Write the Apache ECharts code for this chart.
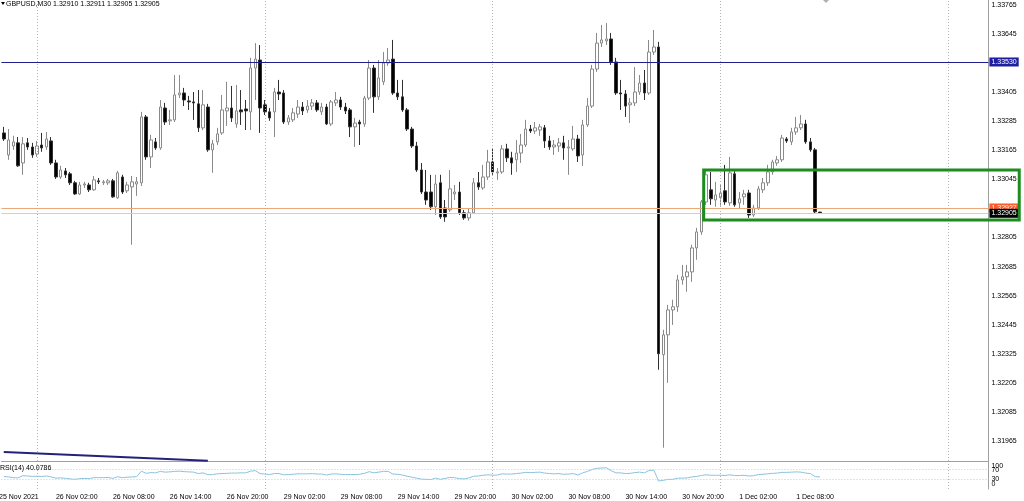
<!DOCTYPE html>
<html><head><meta charset="utf-8">
<script src="https://cdn.jsdelivr.net/npm/echarts@6/dist/echarts.min.js"></script>
<style>html,body{margin:0;padding:0;background:#fff}#c{width:1024px;height:501px}</style>
</head><body><div id="c"></div>
<script>
// ---- data ----
const symbolName = 'GBPUSD,M30';
// trading sessions: [day, first half-hour slot, last half-hour slot]
const sessions = [['25 Nov', 41, 47], ['26 Nov', 0, 47], ['29 Nov', 0, 47], ['30 Nov', 0, 47], ['1 Dec', 0, 47], ['2 Dec', 0, 8]];
const firstTickLabel = '25 Nov 2021';
const xTickLabels = ['26 Nov 02:00','26 Nov 08:00','26 Nov 14:00','26 Nov 20:00','29 Nov 02:00','29 Nov 08:00','29 Nov 14:00','29 Nov 20:00','30 Nov 02:00','30 Nov 08:00','30 Nov 14:00','30 Nov 20:00','1 Dec 02:00','1 Dec 08:00'];
const priceTicks = [1.33765,1.33645,1.33405,1.33285,1.33165,1.33045,1.32805,1.32685,1.32565,1.32445,1.32325,1.32205,1.32085,1.31965];
const rsiInnerTicks = [30, 70];
const rsiEdgeTicks = [0, 100];
const rsiLevels = [30, 70];
// [open, high, low, close]
const ohlc = [
[1.33237,1.33262,1.33204,1.33212],[1.33146,1.33253,1.33126,1.33208],[1.33183,1.33225,1.33167,1.33200],[1.33196,1.33220,1.33097,1.33101],[1.33113,1.33220,1.33064,1.33192],
[1.33196,1.33216,1.33167,1.33179],[1.33179,1.33196,1.33134,1.33146],[1.33150,1.33204,1.33138,1.33183],[1.33187,1.33237,1.33159,1.33175],[1.33179,1.33241,1.33167,1.33212],
[1.33204,1.33220,1.33105,1.33113],[1.33113,1.33126,1.33047,1.33055],[1.33055,1.33101,1.33047,1.33084],[1.33080,1.33092,1.33051,1.33064],[1.33068,1.33076,1.33022,1.33031],
[1.33031,1.33039,1.32981,1.32985],[1.32985,1.33035,1.32981,1.33022],[1.33022,1.33035,1.33010,1.33026],[1.33022,1.33031,1.32993,1.33002],[1.33002,1.33059,1.32998,1.33043],
[1.33039,1.33051,1.33026,1.33035],[1.33031,1.33043,1.33022,1.33035],[1.33031,1.33047,1.33022,1.33039],[1.33039,1.33047,1.32969,1.32973],[1.32969,1.33080,1.32965,1.33072],
[1.33055,1.33064,1.32985,1.32993],[1.32998,1.33035,1.32989,1.33022],[1.33014,1.33059,1.32775,1.33035],[1.33026,1.33055,1.32977,1.33035],[1.33031,1.33324,1.33018,1.33303],
[1.33303,1.33311,1.33126,1.33138],[1.33138,1.33229,1.33092,1.33208],[1.33200,1.33216,1.33167,1.33175],[1.33175,1.33373,1.33167,1.33344],[1.33340,1.33361,1.33270,1.33282],
[1.33287,1.33332,1.33270,1.33291],[1.33291,1.33476,1.33282,1.33394],[1.33394,1.33476,1.33381,1.33402],[1.33402,1.33423,1.33348,1.33373],[1.33369,1.33390,1.33332,1.33365],
[1.33365,1.33406,1.33291,1.33361],[1.33357,1.33414,1.33241,1.33258],[1.33258,1.33414,1.33249,1.33353],[1.33344,1.33357,1.33159,1.33167],[1.33167,1.33208,1.33072,1.33192],
[1.33200,1.33258,1.33187,1.33233],[1.33237,1.33394,1.33229,1.33332],[1.33328,1.33448,1.33266,1.33340],[1.33340,1.33431,1.33282,1.33299],[1.33274,1.33435,1.33258,1.33328],
[1.33332,1.33414,1.33270,1.33324],[1.33336,1.33373,1.33249,1.33328],[1.33324,1.33547,1.33249,1.33505],[1.33505,1.33608,1.33373,1.33542],[1.33538,1.33600,1.33237,1.33340],
[1.33353,1.33373,1.33311,1.33324],[1.33324,1.33340,1.33287,1.33299],[1.33324,1.33423,1.33220,1.33406],[1.33406,1.33456,1.33373,1.33398],[1.33402,1.33414,1.33274,1.33282],
[1.33282,1.33311,1.33270,1.33299],[1.33291,1.33340,1.33282,1.33320],[1.33315,1.33373,1.33299,1.33344],[1.33344,1.33365,1.33311,1.33328],[1.33332,1.33373,1.33320,1.33348],
[1.33348,1.33377,1.33332,1.33361],[1.33361,1.33373,1.33324,1.33332],[1.33324,1.33361,1.33311,1.33344],[1.33344,1.33357,1.33270,1.33274],[1.33274,1.33373,1.33266,1.33365],
[1.33361,1.33406,1.33348,1.33373],[1.33373,1.33386,1.33332,1.33344],[1.33344,1.33361,1.33315,1.33328],[1.33332,1.33340,1.33220,1.33262],[1.33262,1.33299,1.33179,1.33278],
[1.33282,1.33291,1.33187,1.33274],[1.33274,1.33390,1.33262,1.33381],[1.33381,1.33538,1.33373,1.33505],[1.33505,1.33518,1.33320,1.33386],[1.33386,1.33538,1.33373,1.33464],
[1.33448,1.33571,1.33435,1.33526],[1.33526,1.33588,1.33514,1.33538],[1.33542,1.33621,1.33394,1.33402],[1.33402,1.33456,1.33373,1.33386],[1.33386,1.33456,1.33324,1.33332],
[1.33332,1.33340,1.33245,1.33253],[1.33253,1.33262,1.33175,1.33183],[1.33183,1.33200,1.33076,1.33084],[1.33084,1.33113,1.32985,1.32993],[1.32993,1.33084,1.32940,1.32960],
[1.32993,1.33064,1.32919,1.32932],[1.32932,1.33064,1.32898,1.33026],[1.33031,1.33064,1.32882,1.32890],[1.32927,1.32960,1.32870,1.32890],[1.32919,1.33084,1.32911,1.33006],
[1.32985,1.33022,1.32960,1.32993],[1.32993,1.33035,1.32898,1.32907],[1.32907,1.32919,1.32878,1.32886],[1.32886,1.32923,1.32874,1.32907],[1.32907,1.33051,1.32903,1.33031],
[1.33031,1.33076,1.33002,1.33014],[1.33010,1.33105,1.33002,1.33055],[1.33055,1.33167,1.33043,1.33117],[1.33117,1.33175,1.33064,1.33076],[1.33072,1.33092,1.33043,1.33076],
[1.33076,1.33187,1.33068,1.33171],[1.33171,1.33192,1.33117,1.33134],[1.33134,1.33159,1.33064,1.33113],[1.33126,1.33208,1.33076,1.33154],[1.33154,1.33233,1.33113,1.33187],
[1.33187,1.33291,1.33179,1.33253],[1.33253,1.33270,1.33237,1.33245],[1.33245,1.33282,1.33233,1.33258],[1.33249,1.33274,1.33225,1.33262],[1.33258,1.33270,1.33175,1.33204],
[1.33204,1.33225,1.33167,1.33179],[1.33179,1.33208,1.33146,1.33187],[1.33183,1.33216,1.33159,1.33196],[1.33196,1.33225,1.33126,1.33175],[1.33175,1.33208,1.33064,1.33179],
[1.33171,1.33266,1.33163,1.33212],[1.33212,1.33229,1.33117,1.33142],[1.33146,1.33291,1.33101,1.33270],[1.33270,1.33381,1.33262,1.33348],[1.33348,1.33518,1.33340,1.33501],
[1.33501,1.33650,1.33489,1.33608],[1.33608,1.33683,1.33592,1.33621],[1.33617,1.33691,1.33600,1.33625],[1.33625,1.33650,1.33518,1.33530],[1.33530,1.33547,1.33394,1.33402],
[1.33402,1.33456,1.33332,1.33398],[1.33398,1.33414,1.33303,1.33348],[1.33353,1.33381,1.33278,1.33361],[1.33361,1.33509,1.33348,1.33406],[1.33406,1.33476,1.33394,1.33443],
[1.33443,1.33497,1.33373,1.33402],[1.33402,1.33621,1.33394,1.33571],[1.33571,1.33662,1.33559,1.33592],[1.33592,1.33613,1.32259,1.32325],[1.32321,1.32424,1.31937,1.32403],
[1.32403,1.32527,1.32205,1.32506],[1.32506,1.32548,1.32444,1.32519],[1.32519,1.32651,1.32498,1.32630],[1.32630,1.32692,1.32610,1.32643],[1.32643,1.32692,1.32581,1.32663],
[1.32663,1.32775,1.32622,1.32762],[1.32762,1.32845,1.32713,1.32828],[1.32828,1.32960,1.32816,1.32952],[1.32952,1.33084,1.32940,1.33064],[1.33002,1.33076,1.32940,1.32965],
[1.32960,1.33035,1.32932,1.32981],[1.32969,1.33022,1.32932,1.32989],[1.32998,1.33105,1.32940,1.32952],[1.32948,1.33138,1.32936,1.33072],[1.33068,1.33084,1.32932,1.32940],
[1.32948,1.32993,1.32927,1.32965],[1.32973,1.33002,1.32940,1.32985],[1.32989,1.33002,1.32886,1.32898],[1.32898,1.32940,1.32890,1.32927],[1.32927,1.33018,1.32919,1.33006],
[1.33002,1.33051,1.32989,1.33031],[1.33031,1.33105,1.33018,1.33076],[1.33076,1.33126,1.33064,1.33117],[1.33113,1.33142,1.33101,1.33126],[1.33126,1.33229,1.33117,1.33216],
[1.33212,1.33220,1.33196,1.33204],[1.33200,1.33258,1.33187,1.33241],[1.33241,1.33303,1.33229,1.33258],[1.33258,1.33311,1.33249,1.33274],[1.33274,1.33291,1.33192,1.33200],
[1.33200,1.33216,1.33159,1.33167],[1.33167,1.33175,1.32903,1.32911],[1.32910,1.32911,1.32905,1.32905]
];
const rsi = [
42,40,37,36,45,44,42,43,42,44,
40,35,36,34,32,30,33,34,33,37,
37,37,38,34,41,37,39,40,41,64,
55,58,57,63,60,61,63,64,62,61,
60,54,57,49,50,53,54,55,56,56,
57,57,64,66,54,52,50,54,54,49,
50,51,53,53,53,54,52,52,48,52,
53,51,50,50,50,51,55,62,57,60,
63,63,52,51,48,43,39,35,31,30,
29,35,30,34,38,37,33,32,36,43,
44,47,49,47,48,53,52,52,54,56,
59,58,59,60,56,54,53,54,51,52,
54,48,57,63,71,76,77,78,66,57,
57,54,55,58,60,57,67,68,23,26,
30,30,35,35,36,40,42,46,49,47,
47,47,46,49,46,46,47,44,45,50,
51,53,55,56,59,59,60,61,60,56,
54,41,40.0786
];
const dayLines = ['26 Nov 00:00','29 Nov 00:00','30 Nov 00:00','1 Dec 00:00','2 Dec 00:00'];
const resistance = 1.33530;
const askPrice = 1.32927;
const bidPrice = 1.32905;
const trendLine = [['25 Nov 20:30', 1.31919], ['26 Nov 18:00', 1.31883]];
const zoneTop = 1.33084, zoneBottom = 1.32877, zoneStartBar = '30 Nov 22:00', zoneBars = 67;

// ---- categories ----
const categories = [];
sessions.forEach(([d, a, b]) => {
  for (let h = a; h <= b; h++) {
    categories.push(d + ' ' + String(Math.floor(h / 2)).padStart(2, '0') + ':' + (h % 2 ? '30' : '00'));
  }
});

const FONT = 'Liberation Sans';
const last = ohlc[ohlc.length - 1];
const txt = {fontSize: 7, color: '#000', fontFamily: FONT, fontWeight: 'normal'};
const chart = echarts.init(document.getElementById('c'), null, {renderer: 'canvas'});
const tagLabel = (val, bg) => ({show: true, position: 'end', distance: 1, formatter: val.toFixed(5),
  backgroundColor: bg, color: '#fff', fontSize: 7, fontFamily: FONT, padding: [1, 2, 1, 2]});
const vline = d => ({xAxis: d, lineStyle: {color: '#b4b4b4', width: 1, type: [1, 2]}, label: {show: false}});
const RSI_MIN = -10, RSI_MAX = 102;

chart.setOption({
  animation: false,
  backgroundColor: '#fff',
  textStyle: {fontFamily: FONT},
  title: [
    {text: symbolName + ' ' + [last[0], last[1], last[2], last[3]].map(v => v.toFixed(5)).join(' '),
     left: 6, top: 0, padding: 0, textStyle: Object.assign({lineHeight: 9}, txt)},
    {text: 'RSI(14) ' + rsi[rsi.length - 1].toFixed(4), left: 0, top: 464, padding: 0, textStyle: Object.assign({lineHeight: 9}, txt)}
  ],
  grid: [
    {left: 1.41, right: 35.6, top: 0, height: 461},
    {left: 1.41, right: 35.6, top: 462, height: 28}
  ],
  xAxis: [
    {type: 'category', gridIndex: 0, data: categories, axisLine: {show: true, lineStyle: {color: '#a0a0a0'}},
     axisTick: {show: false}, axisLabel: {show: false}, splitLine: {show: false}},
    {type: 'category', gridIndex: 1, data: categories, axisLine: {show: false}, axisTick: {show: false},
     axisLabel: Object.assign({interval: i => (i + 1) % 12 === 0, align: 'left', margin: 5, hideOverlap: false,
       formatter: (v, i) => xTickLabels[(i + 1) / 12 - 1] || ''}, txt),
     splitLine: {show: false}}
  ],
  yAxis: [
    {type: 'value', gridIndex: 0, position: 'right', min: 1.31882, max: 1.33786,
     axisLine: {show: true, lineStyle: {color: '#a0a0a0'}}, axisTick: {show: false}, splitLine: {show: false},
     axisLabel: Object.assign({customValues: priceTicks, margin: 3, hideOverlap: false, formatter: v => v.toFixed(5)}, txt)},
    {type: 'value', gridIndex: 1, position: 'right', min: RSI_MIN, max: RSI_MAX,
     axisLine: {show: true, lineStyle: {color: '#a0a0a0'}}, axisTick: {show: false}, splitLine: {show: false},
     axisLabel: Object.assign({customValues: rsiInnerTicks, margin: 3, hideOverlap: false, formatter: v => String(v)}, txt)},
    {type: 'value', gridIndex: 1, position: 'right', offset: 0, min: RSI_MIN, max: RSI_MAX,
     axisLine: {show: false}, axisTick: {show: false}, splitLine: {show: false},
     axisLabel: Object.assign({customValues: rsiEdgeTicks, margin: 3, hideOverlap: false, showMinLabel: true, showMaxLabel: true,
       formatter: v => v === 100 ? '{t|100}' : '{b|0}',
       rich: {t: {fontSize: 7, fontFamily: FONT, color: '#000', padding: [7, 0, 0, 0]}, b: {fontSize: 7, fontFamily: FONT, color: '#000', padding: [0, 0, 5, 0]}}}, txt)}
  ],
  series: [
    {type: 'candlestick', xAxisIndex: 0, yAxisIndex: 0, barWidth: 3,
     data: ohlc.map(r => [r[0], r[3], r[2], r[1]]),
     itemStyle: {color: '#ffffff', color0: '#000000', borderColor: '#8a8a8a', borderColor0: '#303030', borderWidth: 1},
     markLine: {silent: true, symbol: ['none', 'none'], animation: false, precision: 5,
       data: [
         ...dayLines.map(vline),
         {yAxis: resistance, lineStyle: {color: '#1e1e8c', width: 1, type: 'solid'}, label: tagLabel(resistance, '#1e1ea0')},
         {yAxis: askPrice, lineStyle: {color: '#eaa878', width: 1, type: 'solid'}, label: tagLabel(askPrice, '#ff5a28')},
         {yAxis: bidPrice, lineStyle: {color: '#c4d0e6', width: 1, type: 'solid'}, label: tagLabel(bidPrice, '#000000')}
       ]}},
    {type: 'line', xAxisIndex: 0, yAxisIndex: 0, data: trendLine, symbol: 'none', silent: true, clip: true,
     lineStyle: {color: '#22227a', width: 2}},
    {type: 'line', xAxisIndex: 1, yAxisIndex: 1, data: rsi, symbol: 'none', silent: true,
     lineStyle: {color: '#8cc3de', width: 1},
     markLine: {silent: true, symbol: ['none', 'none'], animation: false,
       data: [
         ...dayLines.map(vline),
         ...rsiLevels.map(v => ({yAxis: v, lineStyle: {color: '#c8c8c8', width: 1, type: [1, 2]}, label: {show: false}}))
       ]}}
  ]
});

// positions derived from the chart's own scales
const xa0 = chart.convertToPixel({xAxisIndex: 1}, 0);
const xa1 = chart.convertToPixel({xAxisIndex: 1}, 1);
const bar = xa1 - xa0;
const si = categories.indexOf(zoneStartBar);
const xs = chart.convertToPixel({xAxisIndex: 0}, si);
const zx0 = xs + bar / 2, zx1 = xs + zoneBars * bar;
const zy0 = chart.convertToPixel({yAxisIndex: 0}, zoneTop);
const zy1 = chart.convertToPixel({yAxisIndex: 0}, zoneBottom);
const rsiBottom = chart.convertToPixel({yAxisIndex: 1}, RSI_MIN);
chart.setOption({
  graphic: [
    {type: 'rect', z: 100, silent: true, shape: {x: zx0, y: zy0, width: zx1 - zx0, height: zy1 - zy0},
     style: {fill: 'none', stroke: '#1e8c1e', lineWidth: 3}},
    {type: 'text', z: 100, silent: true, x: xa0 - bar, y: rsiBottom + 5,
     style: {text: firstTickLabel, fontSize: 7, fontFamily: FONT, fill: '#000', align: 'left', verticalAlign: 'top'}},
    {type: 'polygon', z: 100, silent: true, shape: {points: [[1, 2], [5, 2], [3, 5]]}, style: {fill: '#000'}},
    {type: 'polygon', z: 100, silent: true, shape: {points: [[823, 0], [829, 0], [826, 3]]}, style: {fill: '#b0b0b0'}}
  ]
});
</script>
</body></html>
